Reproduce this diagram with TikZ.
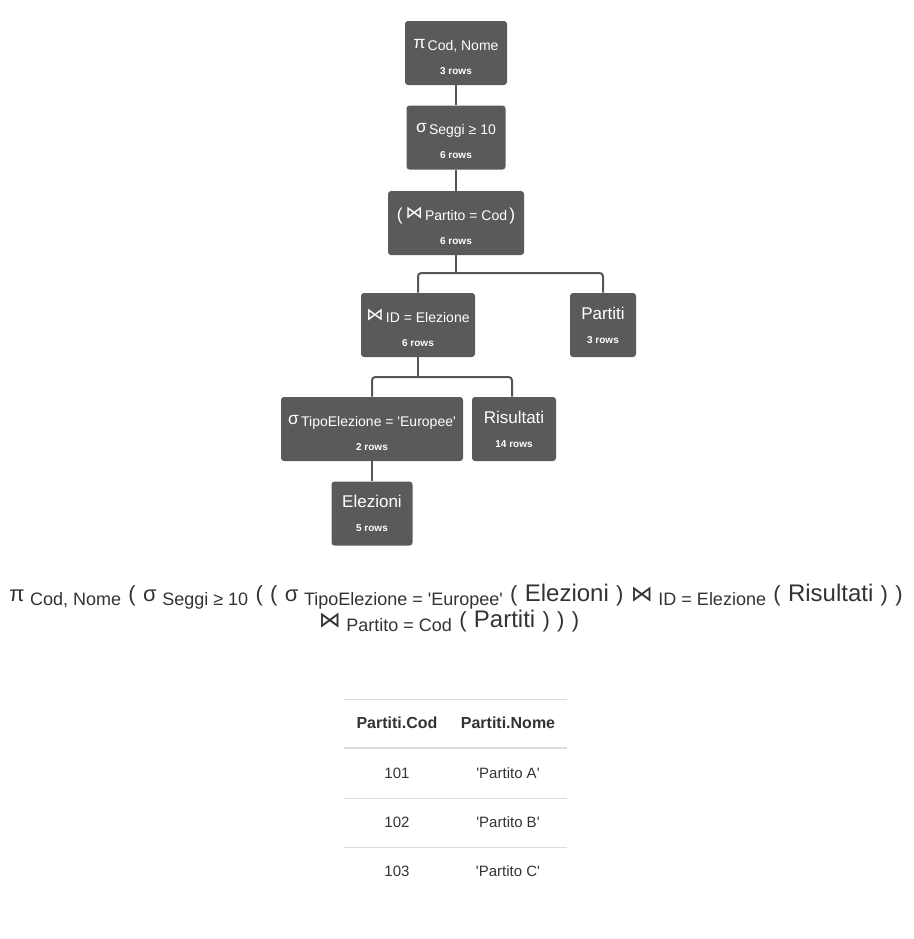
\documentclass[tikz,border=0pt]{standalone}
\usepackage{fontspec}
\setmainfont{Liberation Sans}[Ligatures=TeXOff]
\newfontfamily\symfont{DejaVu Sans}
\usetikzlibrary{positioning}
\definecolor{boxgray}{HTML}{5A5A5A}
\definecolor{linkgray}{HTML}{555555}
\definecolor{textdark}{HTML}{333333}
\definecolor{rulegray}{HTML}{DDDDDD}
\tikzset{box/.style={rectangle,fill=boxgray,rounded corners=2.25pt,align=center,text=white,inner sep=2pt,minimum height=48pt},link/.style={draw=linkgray,line width=1.5pt,rounded corners=2.5pt},formula/.style={text=textdark,anchor=base,inner sep=0pt},cell/.style={text=textdark,font=\fontsize{11.25}{13}\selectfont}}
\newcommand\optitle[2]{\rule{0pt}{14pt}{\fontsize{13}{14}\selectfont\raisebox{1.5pt}{#1}}\,{\fontsize{10.5}{12}\selectfont #2}}
\newcommand\reltitle[1]{{\fontsize{12.75}{14}\selectfont #1}}
\newcommand\rowcount[1]{{\fontsize{7.5}{9}\selectfont\bfseries #1 rows}}
\newcommand\jn{{\symfont ⋈}}
% pieces of the expression below the tree
\newcommand\bs[1]{{\fontsize{16.5}{18}\selectfont #1}}
\newcommand\sbs[1]{\hspace{4.2pt}\raisebox{-3pt}{\fontsize{13.5}{15}\selectfont #1}}
\newcommand\rn[1]{{\fontsize{18}{20}\selectfont #1}}
\newcommand\gap{\hspace{5.5pt}}

\begin{document}
\begin{tikzpicture}[x=0.75pt,y=-0.75pt]
\useasboundingbox (0,0) rectangle (914,939);
% operator tree
\node[box, minimum width=76.5pt] (proj) at (456,53) {\optitle{π}{Cod, Nome}\\[6pt]\rowcount{3}};
\node[box, minimum width=74.25pt, below=15pt of proj] (sel) {\optitle{σ}{Seggi ≥ 10}\\[6pt]\rowcount{6}};
\node[box, minimum width=102pt, below=15.75pt of sel] (join1) {\rule{0pt}{14pt}{\fontsize{13}{14}\selectfont (\,\raisebox{1.5pt}{\jn}}\,{\fontsize{10.5}{12}\selectfont Partito = Cod}\,{\fontsize{13}{14}\selectfont )}\\[6pt]\rowcount{6}};
\node[box, minimum width=85.5pt] (join2) at (418,325) {\optitle{\jn}{ID = Elezione}\\[6pt]\rowcount{6}};
\node[box, minimum width=49.5pt] (partiti) at (603,325) {\reltitle{Partiti}\\[6pt]\rowcount{3}};
\node[box, minimum width=136.5pt] (selT) at (372,429) {\optitle{σ}{TipoElezione = 'Europee'}\\[6pt]\rowcount{2}};
\node[box, minimum width=63pt] (risultati) at (514,429) {\reltitle{Risultati}\\[6pt]\rowcount{14}};
\node[box, minimum width=60.75pt, below=15pt of selT] (elezioni) {\reltitle{Elezioni}\\[6pt]\rowcount{5}};
\coordinate (bus1) at (0,273);
\coordinate (bus2) at (0,377);
\draw[link] (proj) -- (sel);
\draw[link] (sel) -- (join1);
\draw[link] (join1.south) -- (join1.south |- bus1);
\draw[link] (join2.north) |- (join1.south |- bus1) -| (partiti.north);
\draw[link] (join2.south) -- (join2.south |- bus2);
\draw[link] (selT.north) |- (join2.south |- bus2) -| ([xshift=-1.5pt]risultati.north);
\draw[link] (selT) -- (elezioni);
% expression
\node[formula] (expr1) at (456,601) {\bs{π}\sbs{Cod, Nome}\gap\bs{(}\gap\bs{σ}\sbs{Seggi ≥ 10}\gap\bs{(}\gap\bs{(}\gap\bs{σ}\sbs{TipoElezione = 'Europee'}\gap\bs{(}\gap\rn{Elezioni}\gap\bs{)}\gap\bs{\jn}\sbs{ID = Elezione}\gap\bs{(}\gap\rn{Risultati}\gap\bs{)}\gap\bs{)}};
\node[formula] (expr2) at (449,627) {\bs{\jn}\sbs{Partito = Cod}\gap\bs{(}\gap\rn{Partiti}\gap\bs{)}\gap\bs{)}\gap\bs{)}};
% result table
\draw[rulegray, line width=0.75pt] (344,699) -- (567,699);
\draw[rulegray, line width=1.5pt] (344,748) -- (567,748);
\draw[rulegray, line width=0.75pt] (344,798) -- (567,798);
\draw[rulegray, line width=0.75pt] (344,847) -- (567,847);
\node[cell, font=\fontsize{12}{14}\selectfont\bfseries] (hcod) at (397,723) {Partiti.Cod};
\node[cell, font=\fontsize{12}{14}\selectfont\bfseries] (hnome) at (508,723) {Partiti.Nome};
\node[cell] (cod1) at (397,773) {101};
\node[cell] (nome1) at (508,773) {'Partito A'};
\node[cell] (cod2) at (397,822) {102};
\node[cell] (nome2) at (508,822) {'Partito B'};
\node[cell] (cod3) at (397,871) {103};
\node[cell] (nome3) at (508,871) {'Partito C'};
\end{tikzpicture}
\end{document}
